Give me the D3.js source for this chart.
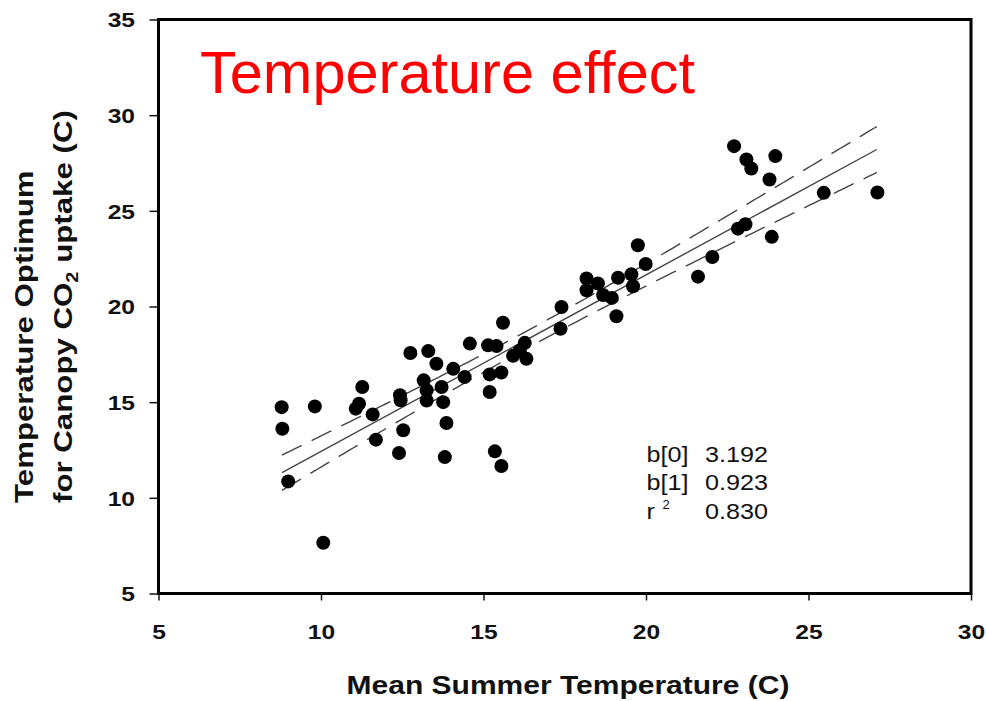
<!DOCTYPE html>
<html>
<head>
<meta charset="utf-8">
<script src="https://cdn.jsdelivr.net/npm/d3@7"></script>
<style>
  html, body { margin: 0; padding: 0; background: #fff; }
  svg { display: block; }
  text { font-family: "Liberation Sans", Arial, Helvetica, sans-serif; }
</style>
</head>
<body>
<svg id="chart" width="986" height="701"></svg>
<script>
// ---- data ----
const meanSummerTemp = [
  8.79, 8.81, 8.99, 9.81, 10.07, 11.07, 11.17, 11.27, 11.59, 11.69,
  12.43, 12.45, 12.53, 12.40, 12.75, 13.30, 13.55, 13.16, 13.25, 13.71,
  13.25, 13.76, 13.86, 13.81, 14.07, 14.42, 14.58, 15.14, 15.40, 15.60,
  15.19, 15.55, 15.19, 15.35, 15.55, 15.91, 16.12, 16.27, 16.32, 17.40,
  17.37, 18.17, 18.17, 18.52, 18.68, 18.95, 19.14, 19.55, 19.60, 19.09,
  19.75, 19.99, 21.60, 22.04, 22.71, 23.09, 23.24, 23.98, 23.80, 22.83,
  23.06, 23.87, 25.47, 27.12
];
const tempOptimum = [
  14.74, 13.61, 10.86, 14.78, 7.65, 14.66, 14.92, 15.79, 14.36, 13.04,
  15.36, 15.10, 13.53, 12.34, 17.57, 17.67, 17.01, 16.14, 15.62, 15.79,
  15.09, 15.00, 13.91, 12.13, 16.74, 16.31, 18.06, 17.97, 17.93, 19.15,
  16.45, 16.55, 15.53, 12.43, 11.66, 17.42, 17.70, 18.10, 17.27, 19.97,
  18.84, 21.46, 20.85, 21.20, 20.60, 20.45, 21.50, 21.68, 21.06, 19.49,
  23.20, 22.22, 21.56, 22.59, 28.38, 27.68, 27.21, 27.86, 26.64, 24.07,
  24.30, 23.64, 25.94, 25.96
];
const xTicks = [5, 10, 15, 20, 25, 30];
const yTicks = [5, 10, 15, 20, 25, 30, 35];

// fit reported on the chart
const b0 = 3.192, b1 = 0.923, r2 = 0.830;
const fitRange = [8.8, 27.1];
// 95% confidence band of the fit
const bandXMean = 16.47, bandHalfAtMean = 0.45, bandSlopeSE = 0.1047;

const titleText = "Temperature effect";
const xTitle = "Mean Summer Temperature (C)";
const statLabels = ["b[0]", "b[1]", "r"];
const statValues = ["3.192", "0.923", "0.830"];

// ---- layout ----
const svg = d3.select("#chart");
const plotL = 158.5, plotR = 971, plotT = 19.5, plotB = 593.5;

const x = d3.scaleLinear().domain([5, 30]).range([plotL, plotR]);
const y = d3.scaleLinear().domain([5, 35]).range([plotB, plotT]);

// axes
const xAxis = d3.axisBottom(x).tickValues(xTicks).tickSize(7).tickSizeOuter(0).tickFormat(d3.format("d"));
const yAxis = d3.axisLeft(y).tickValues(yTicks).tickSize(9).tickSizeOuter(0).tickFormat(d3.format("d"));

const gx = svg.append("g").attr("transform", `translate(0,${plotB})`).call(xAxis);
const gy = svg.append("g").attr("transform", `translate(${plotL},0)`).call(yAxis);
[gx, gy].forEach(g => {
  g.select(".domain").remove();
  g.selectAll(".tick line").attr("stroke", "#111").attr("stroke-width", 1.5);
  g.selectAll(".tick text")
    .attr("font-family", "'Liberation Sans', Arial, sans-serif")
    .attr("font-size", 20.5).attr("font-weight", "bold").attr("fill", "#111");
});
gx.selectAll(".tick text").attr("y", 31).attr("dy", "0.71em").attr("transform", "scale(1.2,1)");
gy.selectAll(".tick text").attr("x", null).attr("dy", "0.36em")
  .attr("text-anchor", "end").attr("transform", "translate(-23.5,0) scale(1.2,1)");

// frame
svg.append("rect")
  .attr("x", plotL).attr("y", plotT)
  .attr("width", plotR - plotL).attr("height", plotB - plotT)
  .attr("fill", "none").attr("stroke", "#000").attr("stroke-width", 3);

// regression line and confidence band
const xs = d3.range(fitRange[0], fitRange[1] + 1e-9, 0.1);
xs[xs.length - 1] = fitRange[1];
const fit = v => b0 + b1 * v;
const half = v => Math.sqrt(bandHalfAtMean * bandHalfAtMean + bandSlopeSE * bandSlopeSE * (v - bandXMean) * (v - bandXMean));
const line = d3.line().x(d => x(d[0])).y(d => y(d[1]));

svg.append("path")
  .attr("d", line(xs.map(v => [v, fit(v) + half(v)])))
  .attr("fill", "none").attr("stroke", "#444").attr("stroke-width", 1.4)
  .attr("stroke-dasharray", "22,11");
svg.append("path")
  .attr("d", line(xs.map(v => [v, fit(v) - half(v)])))
  .attr("fill", "none").attr("stroke", "#444").attr("stroke-width", 1.4)
  .attr("stroke-dasharray", "22,11");
svg.append("path")
  .attr("d", line(fitRange.map(v => [v, fit(v)])))
  .attr("fill", "none").attr("stroke", "#444").attr("stroke-width", 1.4);

// points
svg.append("g").selectAll("circle")
  .data(meanSummerTemp.map((v, i) => [v, tempOptimum[i]]))
  .join("circle")
  .attr("cx", d => x(d[0])).attr("cy", d => y(d[1]))
  .attr("r", 7).attr("fill", "#000");

// title
svg.append("text")
  .attr("x", 200).attr("y", 93)
  .attr("font-size", 59.5).attr("fill", "#ff0000")
  .text(titleText);

// stats block
const stats = svg.append("g").attr("transform", "translate(646.5,0)");
const statY = [461.5, 490, 518.5];
statLabels.forEach((lab, i) => {
  const g = stats.append("g").attr("transform", `translate(0,${statY[i]}) scale(1.12,1)`);
  g.append("text").attr("x", 0).attr("y", 0).attr("font-size", 22.5).attr("fill", "#111").text(lab);
  g.append("text").attr("x", 108.5).attr("y", 0).attr("font-size", 22.5).attr("fill", "#111")
    .attr("text-anchor", "end").text(statValues[i]);
});
stats.append("text").attr("x", 16).attr("y", statY[2] - 10).attr("font-size", 13).attr("fill", "#111").text("2");

// x-axis title
svg.append("g").attr("transform", "translate(568,694) scale(1.2,1)")
  .append("text").attr("text-anchor", "middle")
  .attr("font-size", 25).attr("font-weight", "bold").attr("fill", "#111")
  .text(xTitle);

// y-axis title (two lines)
svg.append("g").attr("transform", "translate(33,503) rotate(-90) scale(1.25,1)")
  .append("text").attr("font-size", 25).attr("font-weight", "bold").attr("fill", "#111")
  .text("Temperature Optimum");
const yt2 = svg.append("g").attr("transform", "translate(72,503) rotate(-90) scale(1.25,1)")
  .append("text").attr("font-size", 25).attr("font-weight", "bold").attr("fill", "#111");
yt2.append("tspan").text("for Canopy CO");
yt2.append("tspan").attr("font-size", 16).attr("dy", 6).text("2");
yt2.append("tspan").attr("dy", -6).text(" uptake (C)");
</script>
</body>
</html>
